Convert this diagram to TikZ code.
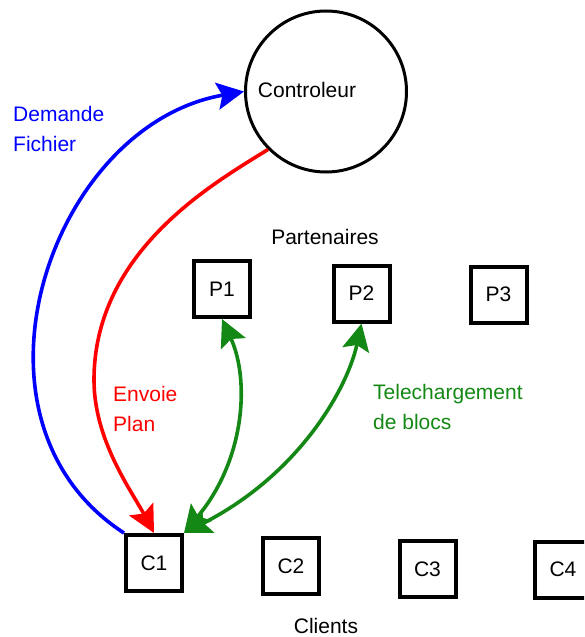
\documentclass[tikz,border=0pt]{standalone}
\usepackage{fontspec}
\setmainfont{Liberation Sans}
\usetikzlibrary{arrows.meta}
\definecolor{dlgreen}{RGB}{20,136,20}
\begin{document}
\begin{tikzpicture}[x=1pt,y=-1pt,
  every node/.style={font=\fontsize{21}{30}\selectfont, inner sep=0pt},
  bigtip/.tip={Stealth[length=27pt,width=27pt,inset=5pt]},
  box/.style={draw, line width=4pt, minimum size=56pt},
  ctrlshape/.style={draw, circle, line width=3pt, minimum size=161pt},
  flow/.style={line width=3.6pt, -bigtip},
  twoway/.style={line width=3.6pt, bigtip-bigtip, draw=dlgreen},
  lbl/.style={align=left, anchor=west}]
\useasboundingbox (0,0) rectangle (584,637);
\clip (0,0) rectangle (584,637);

% controller
\node[ctrlshape] (ctrl) at (326,91.5) {};
\node (ctrltext) at (307,90) {Controleur};

% partners
\node (part) at (325,237) {Partenaires};
\node[box] (p1) at (222,289) {P1};
\node[box] (p2) at (361.5,293.5) {P2};
\node[box] (p3) at (498.5,294.5) {P3};

% clients
\node[box] (c1) at (154,563) {C1};
\node[box] (c2) at (291,566) {C2};
\node[box] (c3) at (427.5,569) {C3};
\node[box] (c4) at (563,569.5) {C4};
\node (cli) at (326,625.5) {Clients};

% file request
\draw[flow, draw=blue] (c1.north west)
  .. controls (-50,420) and (50,125) .. (ctrl.west);
\node[lbl, text=blue] (lreq) at (13,129) {Demande\\Fichier};

% plan sent back
\draw[flow, draw=red] (ctrl.225)
  .. controls (216,182) and (94,250) .. (94,380)
  .. controls (94,440) and (131,490) .. (c1.north);
\node[lbl, text=red] (lplan) at (113,409) {Envoie\\Plan};

% block downloads
\draw[twoway] (p1.south) .. controls (250,380) and (245,460) .. (c1.north east);
\draw[twoway] (p2.south) .. controls (347,390) and (298,475) .. (c1.north east);
\node[lbl, text=dlgreen] (ldl) at (373,407) {Telechargement\\de blocs};
\end{tikzpicture}
\end{document}
